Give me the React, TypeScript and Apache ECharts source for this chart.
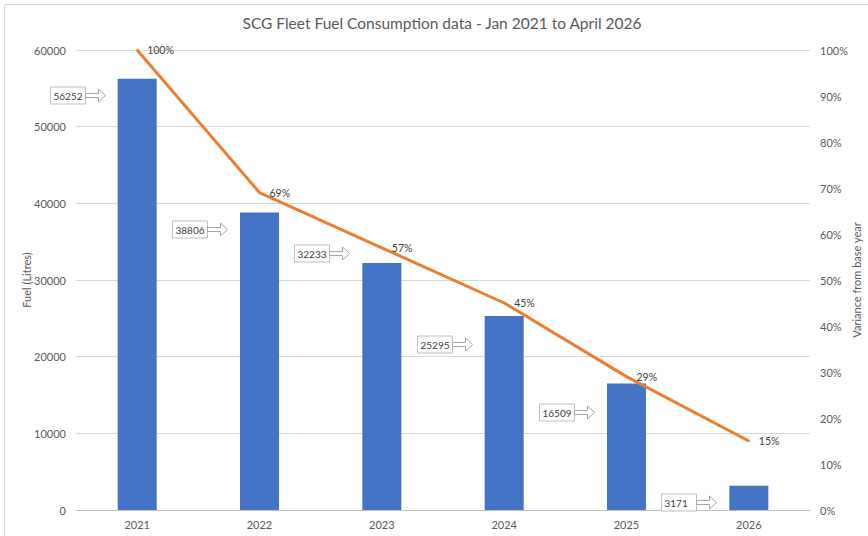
import React, { useEffect, useRef } from "react";
import * as echarts from "echarts";

const years = ["2021", "2022", "2023", "2024", "2025", "2026"];
const fuelLitres = [56252, 38806, 32233, 25295, 16509, 3171];
const variancePct = [1.0, 0.69, 0.57, 0.45, 0.29, 0.15];
// vertical offsets (px) of the callout labels relative to bar tops
const calloutOffsets = [16, 17, -10, 28, 29, 16];

const FONT = "Lato, 'Open Sans', sans-serif";
const TXT = "#595959";

export default function App() {
  const ref = useRef<HTMLDivElement>(null);
  useEffect(() => {
    if (!ref.current) return;
    const chart = echarts.init(ref.current, undefined, { renderer: "svg" });
    const calloutData = fuelLitres.map((v, i) => [i, v, calloutOffsets[i]]);
    chart.setOption({
      animation: false,
      backgroundColor: "#ffffff",
      textStyle: { fontFamily: FONT },
      title: {
        text: "SCG Fleet Fuel Consumption data - Jan 2021 to April 2026",
        left: 437,
        top: 10,
        textAlign: "center",
        textStyle: { fontFamily: FONT, fontSize: 15.5, fontWeight: "normal", color: TXT },
      },
      graphic: [
        {
          type: "rect",
          shape: { x: 4.5, y: 4.5, width: 900, height: 600 },
          style: { fill: "none", stroke: "#d9d9d9", lineWidth: 1 },
          silent: true,
        },
      ],
      grid: {
        left: 76,
        right: 58,
        top: 50,
        bottom: 26,
        containLabel: false,
        outerBoundsMode: "none",
      },
      xAxis: {
        type: "category",
        data: years,
        axisLine: { lineStyle: { color: "#bfbfbf" } },
        axisTick: { show: false },
        axisLabel: { color: TXT, fontSize: 11, fontFamily: FONT, margin: 9 },
      },
      yAxis: [
        {
          type: "value",
          min: 0,
          max: 60000,
          interval: 10000,
          name: "Fuel (Litres)",
          nameLocation: "middle",
          nameGap: 44,
          nameMoveOverlap: false,
          nameTextStyle: { color: TXT, fontSize: 11, fontFamily: FONT },
          axisLine: { show: false },
          axisTick: { show: false },
          axisLabel: {
            color: TXT,
            fontSize: 11,
            fontFamily: FONT,
            margin: 10,
            formatter: (v: number) => String(v),
          },
          splitLine: { lineStyle: { color: "#d9d9d9" } },
        },
        {
          type: "value",
          min: 0,
          max: 1,
          interval: 0.1,
          name: "Variance from base year",
          nameLocation: "middle",
          nameGap: 41,
          nameMoveOverlap: false,
          nameTextStyle: { color: TXT, fontSize: 11, fontFamily: FONT },
          axisLine: { show: false },
          axisTick: { show: false },
          splitLine: { show: false },
          axisLabel: {
            color: TXT,
            fontSize: 11,
            fontFamily: FONT,
            margin: 10,
            formatter: (v: number) => Math.round(v * 100) + "%",
          },
        },
      ],
      series: [
        {
          type: "bar",
          data: fuelLitres,
          barWidth: 39,
          itemStyle: { color: "#4472C4" },
          yAxisIndex: 0,
        },
        {
          type: "line",
          data: variancePct,
          yAxisIndex: 1,
          symbol: "circle",
          symbolSize: 2,
          showSymbol: true,
          itemStyle: { color: "#ED7D31" },
          lineStyle: { color: "#ED7D31", width: 3 },
          z: 5,
          label: {
            show: true,
            position: "right",
            distance: 9,
            color: "#404040",
            fontSize: 10.5,
            fontFamily: FONT,
            formatter: (p: any) => Math.round(p.value * 100) + "%",
          },
        },
        {
          type: "custom",
          yAxisIndex: 0,
          z: 6,
          clip: false,
          encode: { x: 0, y: 1 },
          data: calloutData,
          renderItem: (params: any, api: any) => {
            const idx = api.value(0);
            const val = api.value(1);
            const dy = api.value(2);
            const p = api.coord([idx, val]);
            const cy = Math.round(p[1] + dy) + 0.5;
            const bx = Math.round(p[0] - 87.5) + 0.5;
            const w = 35;
            const h = 17;
            const x0 = bx + w;
            const x1 = x0 + 20;
            const xh = x1 - 7;
            return {
              type: "group",
              children: [
                {
                  type: "rect",
                  shape: { x: bx, y: cy - h / 2, width: w, height: h },
                  style: { fill: "#ffffff", stroke: "#bfbfbf", lineWidth: 1 },
                },
                {
                  type: "text",
                  style: {
                    x: bx + 3,
                    y: cy,
                    text: String(val),
                    verticalAlign: "middle",
                    align: "left",
                    fill: "#404040",
                    fontSize: 10,
                    fontFamily: FONT,
                  },
                },
                {
                  type: "polygon",
                  shape: {
                    points: [
                      [x0, cy - 2],
                      [xh, cy - 2],
                      [xh, cy - 6.5],
                      [x1, cy],
                      [xh, cy + 6.5],
                      [xh, cy + 2],
                      [x0, cy + 2],
                    ],
                  },
                  style: { fill: "#ffffff", stroke: "#a6a6a6", lineWidth: 1 },
                },
              ],
            };
          },
        },
      ],
    });
    return () => chart.dispose();
  }, []);
  return (
    <div
      ref={ref}
      style={{ position: "fixed", left: 0, top: 0, width: 868, height: 536 }}
    />
  );
}
